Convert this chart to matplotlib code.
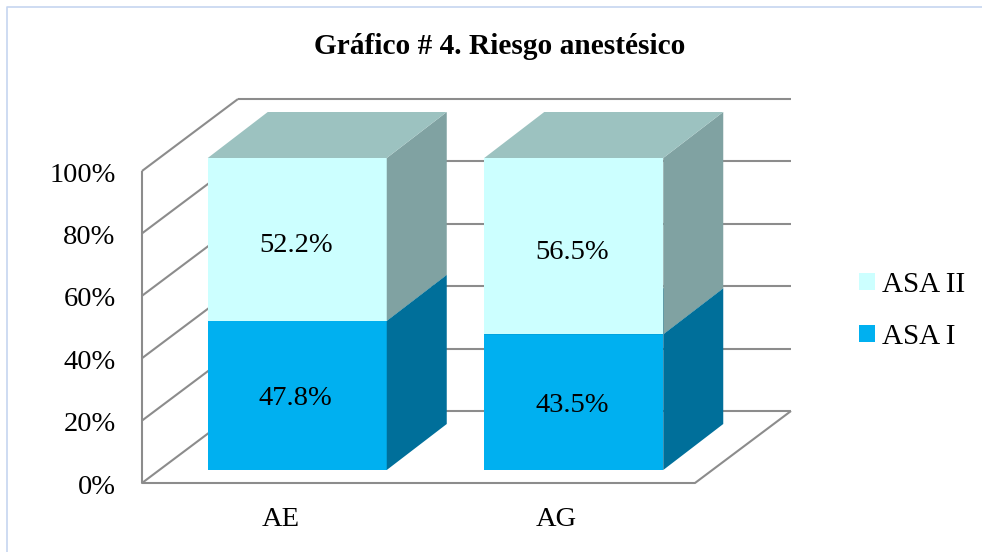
import matplotlib
matplotlib.use("Agg")
import matplotlib.pyplot as plt
from matplotlib.lines import Line2D
from matplotlib.patches import Patch, Polygon
from matplotlib.transforms import ScaledTranslation

plt.rcParams['font.family'] = ['Liberation Serif', 'DejaVu Serif']

CATEGORIES = ["AE", "AG"]
ASA_I = [47.8, 43.5]
ASA_II = [52.2, 56.5]
Y_TICKS = [0, 20, 40, 60, 80, 100]
TITLE = "Gráfico # 4. Riesgo anestésico"

W, H = 982, 552
LINE = "#8C8C8C"
FRAME = "#C6D6F0"

# front plane of the box, in pixels
LEFT, RIGHT, BOTTOM, TOP = 142, 695, 483, 171
PX_X = (RIGHT - LEFT) / len(CATEGORIES)
PX_Y = (BOTTOM - TOP) / 100

# oblique depth, in data units
WALL_DX, WALL_DY = 96 / PX_X, 72 / PX_Y
GAP_DX, GAP_DY = 17 / PX_X, 13 / PX_Y
BAR_DX, BAR_DY = 60 / PX_X, 46 / PX_Y
BAR_WIDTH = 179 / PX_X


def draw_segment(ax, x, low, high, front, top, side):
    left = x - BAR_WIDTH / 2 + GAP_DX
    right = x + BAR_WIDTH / 2 + GAP_DX
    y0 = low + GAP_DY
    y1 = high + GAP_DY
    ax.add_patch(Polygon([(left, y0), (right, y0), (right, y1), (left, y1)],
                         fc=front, ec="none", zorder=3, clip_on=False))
    ax.add_patch(Polygon([(right, y0), (right + BAR_DX, y0 + BAR_DY),
                          (right + BAR_DX, y1 + BAR_DY), (right, y1)],
                         fc=side, ec="none", zorder=3, clip_on=False))
    ax.add_patch(Polygon([(left, y1), (right, y1),
                          (right + BAR_DX, y1 + BAR_DY), (left + BAR_DX, y1 + BAR_DY)],
                         fc=top, ec="none", zorder=3, clip_on=False))


fig = plt.figure(figsize=(W / 100, H / 100), dpi=100, facecolor="white")
ax = fig.add_axes([LEFT / W, 1 - BOTTOM / H, (RIGHT - LEFT) / W, (BOTTOM - TOP) / H])
ax.set_xlim(0, len(CATEGORIES))
ax.set_ylim(0, 100)
ax.patch.set_visible(False)
for s in ax.spines.values():
    s.set_visible(False)

# walls and floor
n = len(CATEGORIES)
for v in Y_TICKS:
    ax.plot([0, WALL_DX], [v, v + WALL_DY], color=LINE, lw=1.5, clip_on=False, zorder=1,
            solid_capstyle="butt")
    ax.plot([WALL_DX, n + WALL_DX], [v + WALL_DY, v + WALL_DY], color=LINE, lw=1.5,
            clip_on=False, zorder=1, solid_capstyle="butt")
ax.plot([0, 0, n, n + WALL_DX], [100, 0, 0, WALL_DY], color=LINE, lw=1.5,
        clip_on=False, zorder=1, solid_capstyle="butt")

for i in range(n):
    x = i + 0.5
    a = ASA_I[i]
    b = ASA_II[i]
    draw_segment(ax, x, 0, a, "#00B0F0", "#0087B8", "#006F9A")
    draw_segment(ax, x, a, a + b, "#CCFFFF", "#9CC2C0", "#80A2A2")
    ax.text(x + GAP_DX - 1.5 / PX_X, GAP_DY + a / 2 - 1.1, f"{a:.1f}%", ha="center", va="center",
            fontsize=20.5, color="black", zorder=4)
    ax.text(x + GAP_DX - 1.5 / PX_X, GAP_DY + a + b / 2 - 2, f"{b:.1f}%", ha="center", va="center",
            fontsize=20.5, color="black", zorder=4)

ax.set_xticks([i + 0.5 for i in range(n)])
ax.set_xticklabels(CATEGORIES)
ax.set_yticks(Y_TICKS)
ax.set_yticklabels([f"{v}%" for v in Y_TICKS])
ax.tick_params(axis="x", length=0, pad=17, labelsize=20.5)
ax.tick_params(axis="y", length=0, pad=19, labelsize=20.5)
down = ScaledTranslation(0, -1 / 100, fig.dpi_scale_trans)
for label in ax.get_yticklabels():
    label.set_transform(label.get_transform() + down)

fig.text(500 / W, 1 - 47 / H, TITLE, ha="center", va="center", fontsize=21.2,
         fontweight="bold", color="black")

handles = [Patch(fc="#CCFFFF", ec="none"), Patch(fc="#00B0F0", ec="none")]
fig.legend(handles, ["ASA II", "ASA I"], loc="center left",
           bbox_to_anchor=(833 / W, 1 - 311 / H), frameon=False, fontsize=21,
           handlelength=0.54, handleheight=0.54, handletextpad=0.25, labelspacing=0.9)

# outer frame, only top and left are visible
fig.add_artist(Line2D([982 / W, 7 / W, 7 / W], [1 - 6.5 / H, 1 - 6.5 / H, 0],
                      transform=fig.transFigure, color=FRAME, lw=1.2))

fig.savefig("out.png", dpi=100)
